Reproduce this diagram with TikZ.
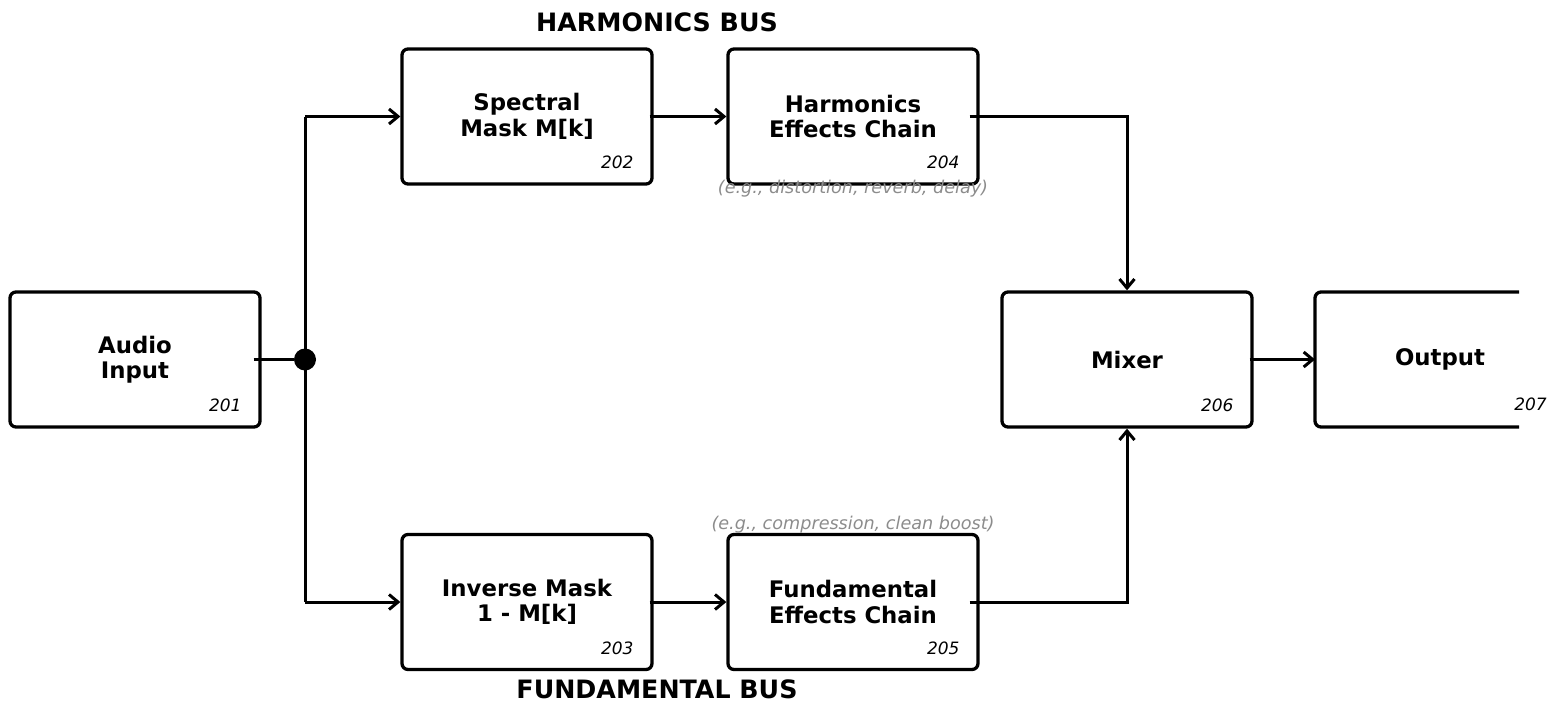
\documentclass[tikz,border=0pt]{standalone}
\usepackage{fontspec}
\setmainfont{DejaVu Sans}
\usetikzlibrary{arrows.meta}

\begin{document}
\begin{tikzpicture}[x=1pt,y=-1pt,
  block/.style={draw, line width=3.3pt, rounded corners=6pt, minimum width=250pt, minimum height=135pt,
    align=center, font=\fontsize{22.8}{25.5}\selectfont\bfseries},
  num/.style={anchor=base east, inner sep=0pt, font=\fontsize{17}{19}\selectfont\itshape},
  note/.style={black!45, inner sep=0pt, font=\fontsize{17.6}{19}\selectfont\itshape},
  bus/.style={inner sep=0pt, font=\fontsize{25.3}{28}\selectfont\bfseries},
  wire/.style={line width=3pt},
  flow/.style={line width=3pt, -{Straight Barb[length=9pt,width=15pt,line width=3pt]}}]
        \useasboundingbox (0,0) rectangle (1553,707);

        % blocks
        \node[block] (audio) at (135,359.5) {Audio\\Input};
        \node[block] (mask) at (527,116.5) {Spectral\\Mask M[k]};
        \node[block] (harm) at (853,116.5) {Harmonics\\Effects Chain};
        \node[block] (inv) at (527,602) {Inverse Mask\\1 - M[k]};
        \node[block] (fund) at (853,602) {Fundamental\\Effects Chain};
        \node[block] (mixer) at (1127,359.5) {Mixer};
        \node[block, draw=none, outer sep=0pt] (out) at (1440,359.5) {Output};
        \draw[line width=3.3pt, rounded corners=6pt] ([xshift=204pt]out.north west) -- (out.north west)
            -- (out.south west) -- ([xshift=204pt]out.south west);

        % numbers
        \node[num] (n201) at ([xshift=-20pt,yshift=17pt]audio.south east) {201};
        \node[num] (n202) at ([xshift=-20pt,yshift=17pt]mask.south east) {202};
        \node[num] (n203) at ([xshift=-20pt,yshift=17pt]inv.south east) {203};
        \node[num] (n204) at ([xshift=-20pt,yshift=17pt]harm.south east) {204};
        \node[num] (n205) at ([xshift=-20pt,yshift=17pt]fund.south east) {205};
        \node[num] (n206) at ([xshift=-20pt,yshift=17pt]mixer.south east) {206};
        \node[num] (n207) at ([xshift=-18pt,yshift=17pt]out.south east) {207};

        % bus titles and notes
        \node[bus] (hbus) at (657,22) {HARMONICS BUS};
        \node[bus] (fbus) at (657,689) {FUNDAMENTAL BUS};
        \node[note] (hnote) at (853,189) {(e.g., distortion, reverb, delay)};
        \node[note] (fnote) at (853,525) {(e.g., compression, clean boost)};

        % split
        \node[circle, fill, inner sep=0pt, minimum size=22pt] (split) at (305,359.5) {};
        \coordinate (top) at (305,116.5);
        \coordinate (bot) at (305,602);
        \draw[wire] ([xshift=-8pt]audio.east) -- (split);
        \draw[wire] (top) -- (bot);

        % connections
        \draw[flow] (top) -- (mask);
        \draw[flow] (bot) -- (inv);
        \draw[flow] ([xshift=-4pt]mask.east) -- (harm);
        \draw[flow] ([xshift=-4pt]inv.east) -- (fund);
        \draw[flow] ([xshift=-10pt]harm.east) -| (mixer);
        \draw[flow] ([xshift=-10pt]fund.east) -| (mixer);
        \draw[flow] ([xshift=-4pt]mixer.east) -- (out.west);
\end{tikzpicture}
\end{document}
